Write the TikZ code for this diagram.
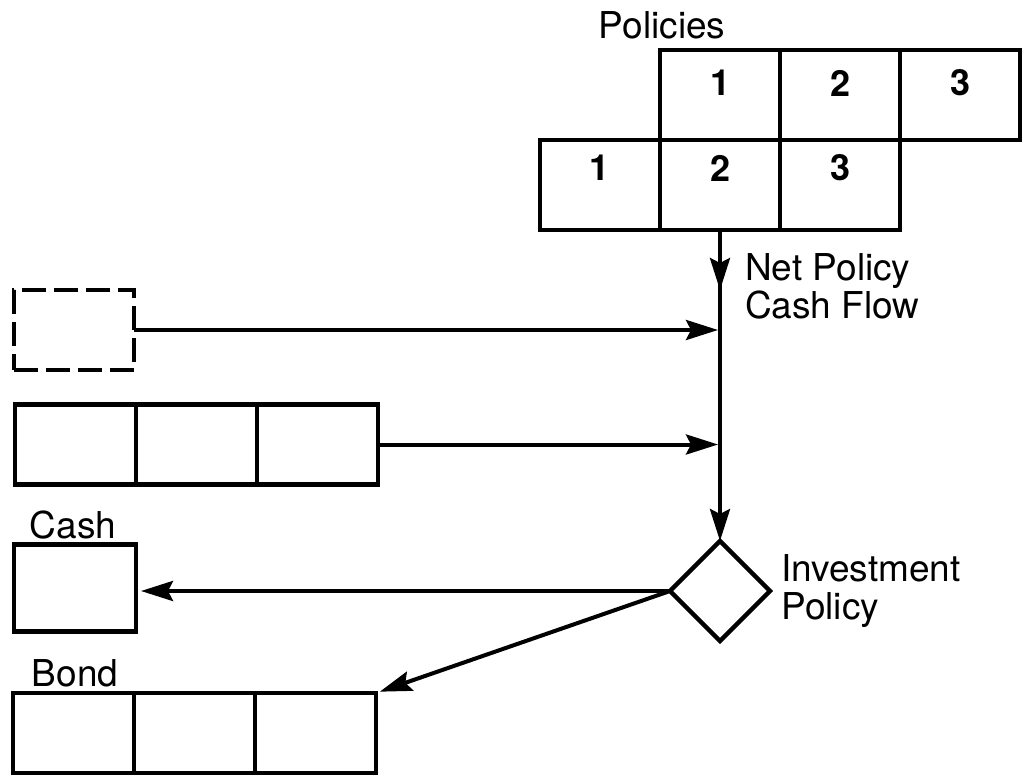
\documentclass[tikz,border=0pt]{standalone}
\usepackage{fontspec}
\setmainfont{TeX Gyre Heros}
\usetikzlibrary{arrows.meta,shapes.geometric,calc}
\begin{document}
\begin{tikzpicture}[x=1pt,y=-1pt,
  lw/.style={line width=4.5pt},
  box/.style={draw,lw,rectangle,inner sep=0pt,outer sep=0pt},
  pcell/.style={box,minimum width=120pt,minimum height=90pt},
  acell/.style={box,minimum width=121pt,minimum height=80pt},
  num/.style={font=\fontsize{36}{36}\selectfont\bfseries,inner sep=0pt},
  txt/.style={font=\fontsize{37}{38}\selectfont,inner sep=0pt,align=left},
  flow/.style={line width=4pt,-{Stealth[length=32pt,width=20pt,inset=5pt]}},
]
\useasboundingbox (0,0) rectangle (1028,776);

% policy grid: upper and lower rows
\node[pcell] (t1) at (720,95) {};
\node[pcell] (t2) at (840,95) {};
\node[pcell] (t3) at (960,95) {};
\node[pcell] (b1) at (600,185) {};
\node[pcell] (b2) at (720,185) {};
\node[pcell] (b3) at (840,185) {};
\node[num] (t1n) at ($(t1)+(0,-12)$) {1};
\node[num] (t2n) at ($(t2)+(0,-12)$) {2};
\node[num] (t3n) at ($(t3)+(0,-12)$) {3};
\node[num] (b1n) at ($(b1)+(0,-17)$) {1};
\node[num] (b2n) at ($(b2)+(0,-17)$) {2};
\node[num] (b3n) at ($(b3)+(0,-17)$) {3};
\node[txt] (pol) at (662,25) {Policies};

% dashed source box
\node[box,dash pattern=on 24pt off 8pt,minimum width=120pt,minimum height=80pt] (dsh) at (74,330) {};

% three-cell source
\node[acell] (a1) at (75.5,444.5) {};
\node[acell] (a2) at (196.5,444.5) {};
\node[acell] (a3) at (317.5,444.5) {};

% decision diamond
\node[draw,lw,diamond,aspect=1,minimum size=100pt,inner sep=0pt,outer sep=0pt] (dia) at (720,591) {};

% cash and bond accounts
\node[box,minimum width=122pt,minimum height=87pt] (cash) at (75,588) {};
\node[txt] (cashl) at (73,525) {Cash};
\node[acell] (c1) at (73.5,733) {};
\node[acell] (c2) at (194.5,733) {};
\node[acell] (c3) at (315.5,733) {};
\node[txt] (bondl) at (75,673) {Bond};

% labels
\node[txt,anchor=west] (ncf) at (745,286) {Net Policy\\Cash Flow};
\node[txt,anchor=west] (inv) at (781,591) {Investment\\Policy};

% flows
\coordinate (m1) at (720,290);
\draw[flow] (b2.south) -- (dia.north);
\draw[flow] (b2.south) -- (m1);
\draw[flow,shorten >=2pt] (dsh.east) -- (dsh.east -| b2.south);
\draw[flow,shorten >=2pt] (a3.east) -- (a3.east -| b2.south);
\draw[flow,shorten >=5pt] (dia.west) -- (dia.west -| cash.east);
\draw[flow,shorten >=4pt] (dia.west) -- (c3.north east);
\end{tikzpicture}
\end{document}
